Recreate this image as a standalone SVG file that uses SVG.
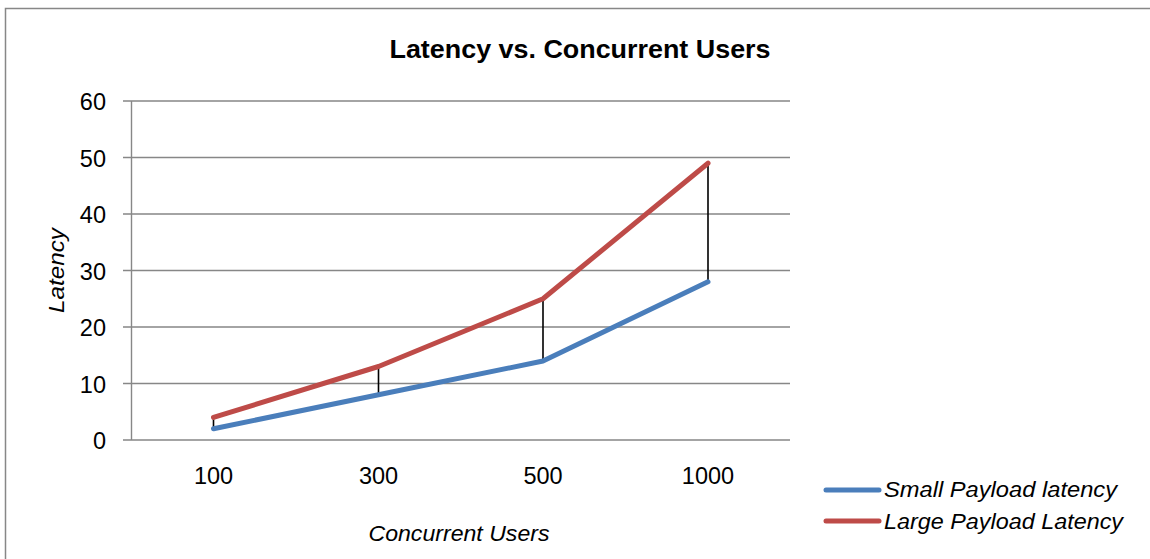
<svg xmlns="http://www.w3.org/2000/svg" width="1150" height="559" viewBox="0 0 1150 559">
<style>
.grid{stroke:#878787;stroke-width:1.4;fill:none}
.series{fill:none;stroke-width:5;stroke-linejoin:round;stroke-linecap:round}
.small{stroke:#4A7EBB}
.large{stroke:#BE4B48}
.hl{stroke:#000;stroke-width:1.6}
.tick{font-family:"Liberation Sans",Arial,sans-serif;font-size:23.5px;fill:#000}
.title{font-family:"Liberation Sans",Arial,sans-serif;font-size:26.5px;font-weight:bold;fill:#000}
.ax{font-family:"Liberation Sans",Arial,sans-serif;font-size:22.5px;font-style:italic;fill:#000}
</style>
<rect x="0" y="0" width="1150" height="559" fill="#fff"/>
<rect x="5.5" y="8.5" width="1160" height="570" fill="#fff" stroke="#878787" stroke-width="1.5"/>
<g id="title"><text class="title" x="580" y="57.5" text-anchor="middle" textLength="381" lengthAdjust="spacingAndGlyphs">Latency vs. Concurrent Users</text></g>
<g id="gridlines">
<path class="grid" d="M123 101H790M123 157.5H790M123 214H790M123 270.5H790M123 327H790M123 383.5H790M123 440H790M131.5 101V440"/>
</g>
<g id="y-labels" class="tick" text-anchor="end">
<text x="106" y="110">60</text>
<text x="106" y="166.5">50</text>
<text x="106" y="223">40</text>
<text x="106" y="279.5">30</text>
<text x="106" y="336">20</text>
<text x="106" y="392.5">10</text>
<text x="106" y="449">0</text>
</g>
<g id="x-labels" class="tick" text-anchor="middle">
<text x="213.5" y="484">100</text>
<text x="378.5" y="484">300</text>
<text x="543" y="484">500</text>
<text x="708" y="484">1000</text>
</g>
<g id="axis-titles">
<text class="ax" x="459" y="541" text-anchor="middle" textLength="181" lengthAdjust="spacingAndGlyphs">Concurrent Users</text>
<text class="ax" transform="translate(64 270.5) rotate(-90)" text-anchor="middle" font-size="24" textLength="85" lengthAdjust="spacingAndGlyphs">Latency</text>
</g>
<g id="connectors">
<path class="hl" d="M213.5 417.4V428.7M378.5 366.5V394.8M543 298.8V361M708 163.2V281.8"/>
</g>
<g id="series-small"><polyline class="series small" points="213.5,428.7 378.5,394.8 543,361 708,281.8"/></g>
<g id="series-large"><polyline class="series large" points="213.5,417.4 378.5,366.5 543,298.8 708,163.2"/></g>
<g id="legend">
<line class="series small" x1="826" y1="490" x2="879" y2="490"/>
<text class="ax" x="884" y="497" textLength="233" lengthAdjust="spacingAndGlyphs">Small Payload latency</text>
<line class="series large" x1="826" y1="521" x2="879" y2="521"/>
<text class="ax" x="884" y="529" textLength="239" lengthAdjust="spacingAndGlyphs">Large Payload Latency</text>
</g>
</svg>
